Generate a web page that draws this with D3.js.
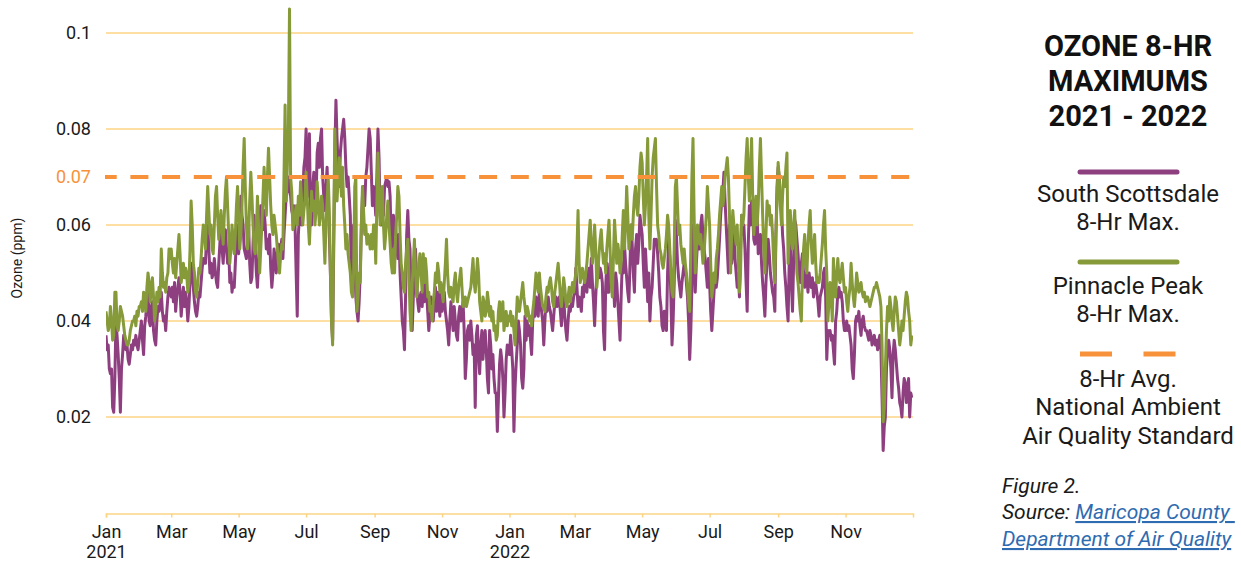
<!DOCTYPE html>
<html>
<head>
<meta charset="utf-8">
<script src="https://cdn.jsdelivr.net/npm/d3@7"></script>
<style>
  html, body { margin: 0; padding: 0; background: #fff; }
  svg { display: block; font-family: Roboto, "Noto Sans", sans-serif; }
</style>
</head>
<body>
<svg id="chart" width="1241" height="565"></svg>
<script>
// Daily 8-hour maximum ozone, in parts per billion (divided by 1000 for ppm).
const southScottsdale2021 = [
  37,34,35,30,29,30,22,21,28,40,37,33,28,21,30,33,37,36,34,35,32,31,33,35,34,36,35,37,35,34,36,
  38,40,36,33,39,41,44,46,40,39,43,44,38,36,35,40,43,42,44,46,42,40,41,38,42,45,47,46,
  45,47,44,48,42,45,47,49,46,41,44,47,43,46,44,40,43,48,52,50,47,44,42,41,43,46,45,48,51,53,52,
  52,58,60,55,50,52,49,50,53,50,48,47,52,56,61,55,52,57,59,55,52,55,48,50,46,48,47,52,57,60,
  54,58,66,62,60,55,54,53,56,60,52,48,49,56,62,55,50,47,52,58,64,62,59,63,60,55,57,54,58,51,47,
  50,55,53,50,54,56,52,55,57,53,58,62,66,68,70,67,66,63,62,64,60,50,41,58,62,65,60,66,72,74,
  80,70,66,79,62,60,68,71,63,65,75,77,72,78,80,70,66,63,68,72,65,58,50,40,36,55,75,86,78,72,68,
  75,78,80,82,78,72,68,70,66,62,48,55,60,52,45,42,40,44,50,60,66,68,64,70,72,76,80,78,71,64,68,
  66,62,70,80,74,62,60,65,62,68,69,70,68,69,66,57,55,62,58,60,55,53,58,50,45,40,38,34,45,58,
  63,57,55,45,38,45,50,55,48,44,42,45,46,43,48,44,49,46,42,38,41,45,43,40,44,47,42,46,44,41,47,
  42,44,46,42,40,38,35,40,44,41,38,43,40,37,36,41,43,40,42,44,38,28,32,38,39,36,40,37,33,35,
  22,37,39,33,29,35,38,32,36,38,34,28,25,38,35,30,33,28,25,25,17,24,31,34,32,28,20,25,32,35,34
];
const southScottsdale2022 = [
  33,37,34,30,17,26,31,35,40,38,35,28,26,30,41,36,40,37,39,36,33,40,42,41,45,43,41,46,44,42,40,
  35,40,44,42,45,43,42,40,38,41,44,45,43,44,45,42,39,43,45,41,38,36,40,43,42,44,43,45,
  46,51,47,43,45,44,42,47,45,49,48,46,50,51,47,53,48,44,39,45,50,53,49,51,50,48,38,34,47,52,46,
  46,52,50,47,49,43,50,48,44,40,36,45,52,50,56,52,49,46,44,52,60,56,50,46,55,58,52,56,62,60,
  58,52,47,55,50,44,50,40,45,47,52,57,56,57,54,50,45,43,39,38,42,40,38,50,57,53,45,35,40,48,61,
  58,52,49,47,45,48,50,52,51,48,45,40,32,38,47,60,54,46,52,56,58,55,60,62,58,55,53,50,47,53,
  48,42,38,42,46,50,47,49,53,57,62,65,67,71,65,60,55,50,60,56,52,55,58,53,50,47,50,45,55,62,58,
  60,55,48,42,56,64,60,65,62,57,56,60,62,54,57,58,52,48,45,41,48,53,57,54,50,48,46,45,42,58,68,
  72,70,66,64,58,55,50,47,43,40,52,57,48,42,52,61,60,57,54,50,48,52,54,50,47,50,49,46,50,48,
  47,49,45,47,48,46,44,41,45,46,47,50,51,45,32,38,37,38,36,37,34,31,40,42,46,47,45,46,44,40,38,
  38,40,38,39,37,35,30,28,33,40,41,40,42,39,37,40,41,39,38,38,37,36,38,37,35,36,37,35,36,34,
  36,37,34,24,13,18,20,30,34,36,34,30,24,33,36,34,31,28,26,23,22,20,25,28,27,23,26,28,20,25,24
];
const pinnaclePeak2021 = [
  42,40,38,39,43,40,36,37,46,46,39,38,40,43,42,41,39,37,36,35,35,36,38,39,40,40,41,39,42,41,43,
  43,44,42,46,45,42,47,50,48,44,47,49,45,40,42,46,44,47,45,55,50,47,48,46,49,50,55,53,
  55,52,50,53,49,52,55,58,54,48,50,52,49,51,50,46,48,55,65,60,52,50,46,45,48,51,50,53,57,60,58,
  55,62,68,63,58,60,55,54,60,66,68,62,57,60,63,59,56,62,67,70,64,58,52,55,60,57,54,58,64,68,
  62,55,58,64,72,78,68,60,55,58,65,71,66,60,55,54,58,66,60,50,55,60,66,72,66,62,70,76,70,64,60,
  58,62,60,58,55,52,50,54,56,55,70,85,65,72,80,105,70,67,59,60,62,64,60,66,62,69,65,60,63,65,
  71,66,60,56,62,67,63,65,60,63,69,65,60,62,66,64,58,52,60,65,70,63,50,40,35,60,80,72,65,70,74,
  70,66,72,64,60,55,58,54,52,50,46,45,50,68,70,42,45,50,48,60,68,63,58,60,56,58,57,55,58,55,60,
  60,52,64,75,68,60,65,68,60,55,58,62,65,60,56,52,50,55,50,58,62,68,66,58,52,50,47,46,52,55,
  57,50,42,38,48,52,57,50,45,48,52,54,50,46,54,48,53,50,45,46,42,43,40,44,46,50,48,52,50,46,48,
  46,44,48,52,57,50,46,45,47,45,44,48,50,46,44,47,49,51,47,43,44,45,43,44,45,46,47,50,53,48,
  46,49,53,50,44,42,40,45,44,41,42,46,44,41,43,40,42,38,39,36,37,42,44,40,42,44,38,40,42,39,41
];
const pinnaclePeak2022 = [
  40,42,39,41,38,35,40,45,43,42,44,46,48,45,43,41,43,42,40,41,39,42,44,47,50,48,46,50,47,45,43,
  43,42,45,47,46,48,49,47,44,43,46,48,50,52,49,45,43,46,49,47,44,43,45,47,44,46,48,46,
  48,50,55,63,52,48,50,51,49,48,50,52,55,58,61,56,52,55,60,55,47,50,54,57,59,55,52,54,50,55,58,
  61,55,48,45,53,61,57,52,56,54,50,52,58,63,55,60,68,62,55,58,60,57,62,66,68,64,62,66,72,75,
  73,66,60,64,70,78,62,55,62,70,74,76,78,68,60,58,55,54,52,51,53,55,58,62,60,55,50,46,45,55,68,
  70,64,58,60,56,54,52,55,52,50,47,44,42,55,70,78,62,50,55,60,58,56,58,55,52,54,58,62,68,64,
  60,52,45,47,50,48,53,55,58,62,65,68,64,66,70,72,74,70,62,50,58,63,60,58,56,60,52,46,50,62,60,
  62,68,74,78,70,65,72,78,66,58,62,66,60,64,72,78,70,62,55,50,58,65,62,64,60,62,58,52,48,58,65,
  73,70,64,60,66,70,68,72,75,52,58,63,57,55,60,63,56,50,48,45,42,40,50,55,58,52,50,56,60,63,
  56,52,55,58,52,48,49,48,50,53,56,60,63,55,50,40,44,48,45,40,53,47,45,50,53,49,48,50,52,49,46,
  47,44,42,45,47,52,48,45,43,46,50,48,46,47,48,46,45,46,44,45,45,44,43,44,45,46,47,47,48,47,
  46,45,43,35,19,22,30,38,43,40,45,43,40,38,42,45,44,41,38,35,37,40,38,41,44,46,45,42,40,35,37
];

// Axis and reference values (ppm)
const yTickValues = [0.02, 0.04, 0.06, 0.07, 0.08, 0.1];
const gridValues = [0.02, 0.04, 0.06, 0.08, 0.1];
const standardPpm = 0.07;
const monthNames = ["Jan","Feb","Mar","Apr","May","Jun","Jul","Aug","Sep","Oct","Nov","Dec"];

const startDate = new Date(Date.UTC(2021, 0, 1));
const endDate = new Date(Date.UTC(2023, 0, 1));
const days = d3.utcDay.range(startDate, endDate);

const southScottsdale = southScottsdale2021.concat(southScottsdale2022);
const pinnaclePeak = pinnaclePeak2021.concat(pinnaclePeak2022);

const series = [
  { name: "South Scottsdale", color: "#8E3F7F", values: southScottsdale },
  { name: "Pinnacle Peak", color: "#869A3A", values: pinnaclePeak }
];

const colors = {
  grid: "#FCD584",
  standard: "#F7923A",
  text: "#1a1a1a",
  link: "#2F6BB0"
};

const plot = { left: 106, right: 913, top: 7, bottom: 513 };

const svg = d3.select("#chart");

const x = d3.scaleUtc().domain([startDate, endDate]).range([plot.left, plot.right]);
const y = d3.scaleLinear().domain([0, 0.1054]).range([plot.bottom, plot.top]);

// Horizontal gridlines
svg.append("g")
  .selectAll("line")
  .data(gridValues)
  .join("line")
  .attr("x1", plot.left)
  .attr("x2", plot.right)
  .attr("y1", d => y(d))
  .attr("y2", d => y(d))
  .attr("stroke", colors.grid)
  .attr("stroke-width", 1.5);

// Y axis labels
const yAxis = svg.append("g")
  .attr("transform", `translate(${plot.left},0)`)
  .call(d3.axisLeft(y)
    .tickValues(yTickValues)
    .tickSize(0)
    .tickPadding(15)
    .tickFormat(d => String(+d.toFixed(2))));
yAxis.select(".domain").remove();
yAxis.selectAll("text")
  .attr("font-size", 18)
  .attr("font-family", "Roboto, sans-serif")
  .attr("fill", d => d === standardPpm ? colors.standard : colors.text);

// Y axis title
svg.append("text")
  .attr("transform", "translate(22,258) rotate(-90)")
  .attr("text-anchor", "middle")
  .attr("font-size", 14)
  .attr("fill", colors.text)
  .text("Ozone (ppm)");

// X axis
const xAxis = svg.append("g")
  .attr("transform", `translate(0,${plot.bottom + 0.5})`)
  .call(d3.axisBottom(x)
    .tickValues(d3.utcMonth.every(2).range(startDate, endDate))
    .tickSize(4)
    .tickSizeOuter(4)
    .tickPadding(8)
    .tickFormat(() => ""));
xAxis.select(".domain").attr("stroke", colors.grid).attr("stroke-width", 1.5);
xAxis.selectAll(".tick line").attr("stroke", colors.grid).attr("stroke-width", 1.5);
xAxis.selectAll(".tick text").each(function(d) {
  const t = d3.select(this)
    .attr("font-size", 18)
    .attr("font-family", "Roboto, sans-serif")
    .attr("fill", colors.text);
  t.append("tspan").attr("x", 0).text(monthNames[d.getUTCMonth()]);
  if (d.getUTCMonth() === 0) {
    t.append("tspan").attr("x", 0).attr("dy", "1.08em").text(d.getUTCFullYear());
  }
});

// Clip for the data lines
svg.append("clipPath").attr("id", "plot-clip")
  .append("rect")
  .attr("x", plot.left).attr("y", plot.top)
  .attr("width", plot.right - plot.left).attr("height", plot.bottom - plot.top);

// Station lines
const line = d3.line()
  .x((d, i) => x(days[i]))
  .y(d => y(d / 1000));

svg.append("g")
  .attr("clip-path", "url(#plot-clip)")
  .selectAll("path")
  .data(series)
  .join("path")
  .attr("d", d => line(d.values))
  .attr("fill", "none")
  .attr("stroke", d => d.color)
  .attr("stroke-width", 3)
  .attr("stroke-linejoin", "round");

// NAAQS standard
svg.append("line")
  .attr("x1", plot.left - 1)
  .attr("x2", plot.right)
  .attr("y1", y(standardPpm))
  .attr("y2", y(standardPpm))
  .attr("stroke", colors.standard)
  .attr("stroke-width", 4)
  .attr("stroke-dasharray", "18 13.7")
  .attr("stroke-dashoffset", 6.3);

// Title and legend
const cx = 1128;
const title = svg.append("g")
  .attr("font-weight", 700)
  .attr("font-size", 29)
  .attr("text-anchor", "middle")
  .attr("fill", "#111");
["OZONE 8-HR", "MAXIMUMS", "2021 - 2022"].forEach((s, i) => {
  title.append("text").attr("x", cx).attr("y", 55.5 + i * 35).text(s);
});

const legend = svg.append("g")
  .attr("font-size", 24)
  .attr("text-anchor", "middle")
  .attr("fill", colors.text);

const legendItems = [
  { color: series[0].color, y: 172, dashed: false, lines: ["South Scottsdale", "8-Hr Max."], textY: 202 },
  { color: series[1].color, y: 262, dashed: false, lines: ["Pinnacle Peak", "8-Hr Max."], textY: 294 },
  { color: colors.standard, y: 354, dashed: true, lines: ["8-Hr Avg.", "National Ambient", "Air Quality Standard"], textY: 387 }
];
legendItems.forEach(item => {
  legend.append("line")
    .attr("x1", 1080).attr("x2", 1177)
    .attr("y1", item.y).attr("y2", item.y)
    .attr("stroke", item.color)
    .attr("stroke-width", 5)
    .attr("stroke-linecap", item.dashed ? "butt" : "round")
    .attr("stroke-dasharray", item.dashed ? "32 31.5" : null);
  item.lines.forEach((s, i) => {
    legend.append("text").attr("x", cx).attr("y", item.textY + i * 28.4).text(s);
  });
});

// Figure note and source
const note = svg.append("g")
  .attr("font-size", 21)
  .attr("font-style", "italic")
  .attr("fill", colors.text);
note.append("text").attr("x", 1002).attr("y", 492.5).text("Figure 2.");
const src = note.append("text").attr("x", 1002).attr("y", 519);
src.append("tspan").text("Source: ");
src.append("tspan").attr("fill", colors.link).attr("text-decoration", "underline").text("Maricopa County\u00A0");
note.append("text").attr("x", 1002).attr("y", 546)
  .attr("fill", colors.link).attr("text-decoration", "underline")
  .text("Department of Air Quality");
</script>
</body>
</html>
